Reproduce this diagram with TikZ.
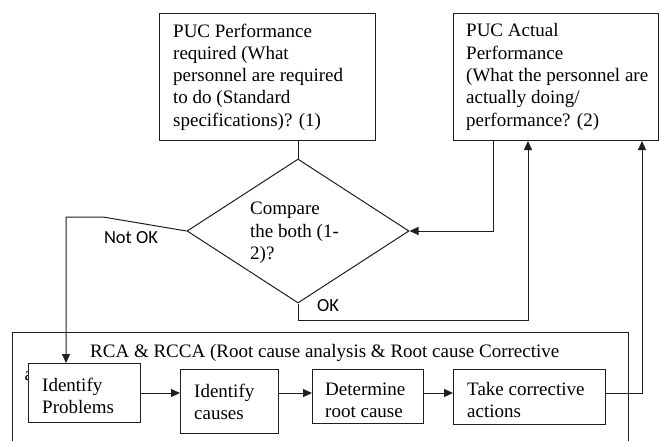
\documentclass[tikz,border=0pt]{standalone}
\usepackage{fontspec}
\setmainfont{Liberation Serif}
\newfontfamily\labelsans{Carlito}
\usetikzlibrary{shapes.geometric,arrows.meta,calc}
\begin{document}
\begin{tikzpicture}[x=1pt,y=-1pt,
  line/.style={draw=black!88, line width=1pt},
  arr/.style={line, -{Triangle[length=9pt,width=8pt]}},
  box/.style={line, rectangle, fill=white, inner sep=0pt, anchor=north west},
  txt/.style={anchor=west, align=left, inner sep=0pt, font=\fontsize{19}{22.3}\selectfont},
  lab/.style={inner sep=0pt, font=\labelsans\fontsize{18.5}{22}\selectfont}]
\path[use as bounding box, fill=white] (0,0) rectangle (660,441);

% top boxes
\node[box, minimum width=216, minimum height=127] (req) at (159,13) {};
\node[txt] (reqt) at (173,77) {PUC Performance\\required (What\\personnel are required\\to do (Standard\\specifications)? (1)};
\node[box, minimum width=205, minimum height=127] (act) at (453,13) {};
\node[txt] (actt) at (466,77) {PUC Actual\\Performance\\(What the personnel are\\actually doing/\\performance? (2)};

% decision
\node[line, diamond, aspect=1.54, minimum width=222, minimum height=144, inner sep=0pt] (cmp) at (298,231) {};
\node[txt] (cmpt) at (250,233) {Compare\\the both (1-\\2)?};

% RCA frame
\coordinate (fbl) at (12,441);
\coordinate (ftr) at (628,332);
\coordinate (fbr) at (628,441);
\draw[line] (fbl) |- (ftr) -- (fbr);
\node[txt, anchor=base west] (rcat) at (90,357) {RCA \& RCCA (Root cause analysis \& Root cause Corrective};
\node[txt, anchor=base west] (rcat2) at (24.5,380) {a};

% process steps
\node[box, minimum width=112, minimum height=59] (prob) at (28,363) {};
\node[txt] (probt) at (42,396) {Identify\\Problems};
\node[box, minimum width=98, minimum height=64] (caus) at (180,369) {};
\node[txt] (caust) at (194,402) {Identify\\causes};
\node[box, minimum width=111, minimum height=54] (det) at (312,369) {};
\node[txt] (dett) at (325,400) {Determine\\root cause};
\node[box, minimum width=152, minimum height=55] (take) at (453,369) {};
\node[txt] (taket) at (467,400) {Take corrective\\actions};

% connectors
\coordinate (flow) at (0,393);
\draw[line] (cmp.north) -- (cmp.north |- req.south);
\coordinate (nk1) at (103,217);
\coordinate (nk2) at (66,217);
\draw[arr] (cmp.west) -- (nk1) -- (nk2) -- (nk2 |- prob.north);
\coordinate (ok1) at (298,320);
\coordinate (ok2) at (528,320);
\draw[arr] (cmp.south) -- (ok1) -- (ok2) -- (ok2 |- act.south);
\coordinate (acx) at (493,0);
\draw[arr] (acx |- act.south) |- (cmp.east);
\coordinate (fbx) at (642,0);
\draw[arr] (flow -| prob.east) -- (flow -| caus.west);
\draw[arr] (flow -| caus.east) -- (flow -| det.west);
\draw[arr] (flow -| det.east) -- (flow -| take.west);
\draw[arr] (flow -| take.east) -| (fbx |- act.south);

% branch labels
\node[lab] (notok) at (131,238) {Not OK};
\node[lab] (ok) at (328,306) {OK};
\end{tikzpicture}
\end{document}
